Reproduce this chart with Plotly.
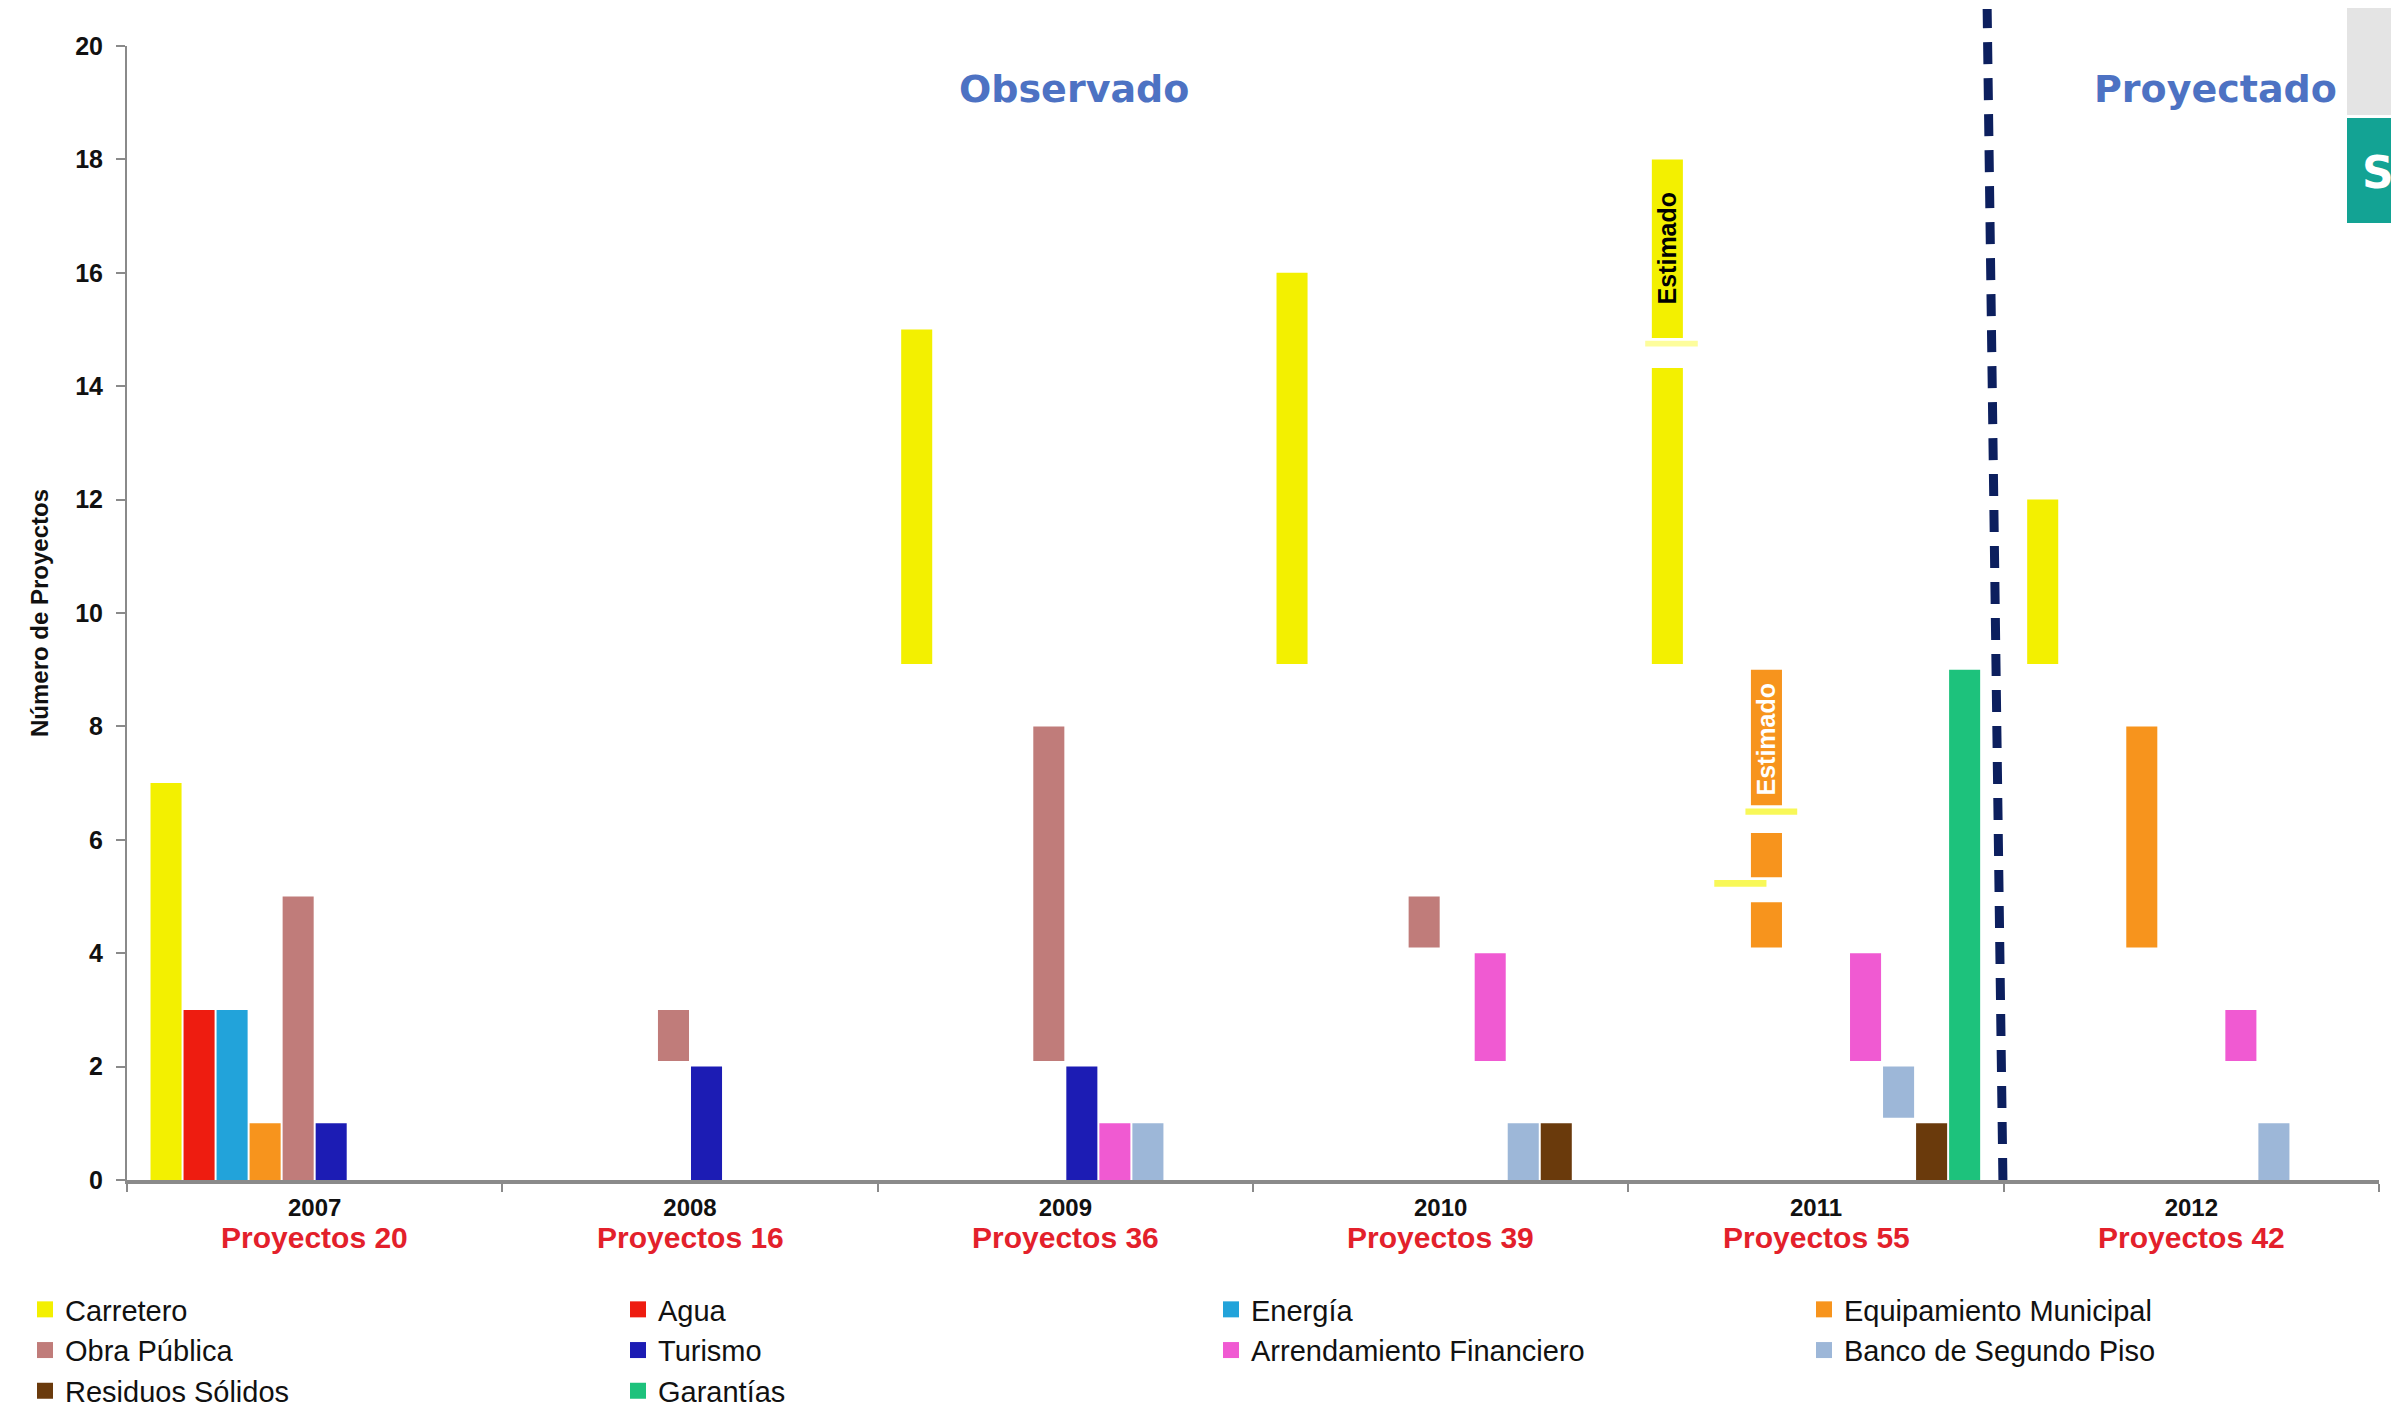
import plotly.graph_objects as go

# ---------------- data ----------------
years = ["2007", "2008", "2009", "2010", "2011", "2012"]
proyectos = [20, 16, 36, 39, 55, 42]

series_names = ["Carretero", "Agua", "Energía", "Equipamiento Municipal",
                "Obra Pública", "Turismo", "Arrendamiento Financiero",
                "Banco de Segundo Piso", "Residuos Sólidos", "Garantías"]

carretero_top = [7, None, 15, 16, 18, 12]
carretero_base = [0, 0, 9.1, 9.1, 9.1, 9.1]
agua_top = [3, None, None, None, None, None]
agua_base = [0, 0, 0, 0, 0, 0]
energia_top = [3, None, None, None, None, None]
energia_base = [0, 0, 0, 0, 0, 0]
equipamiento_top = [1, None, None, None, 9, 8]
equipamiento_base = [0, 0, 0, 0, 4.1, 4.1]
obra_top = [5, 3, 8, 5, None, None]
obra_base = [0, 2.1, 2.1, 4.1, 0, 0]
turismo_top = [1, 2, 2, None, None, None]
turismo_base = [0, 0, 0, 0, 0, 0]
arrendamiento_top = [None, None, 1, 4, 4, 3]
arrendamiento_base = [0, 0, 0, 2.1, 2.1, 2.1]
banco_top = [None, None, 1, 1, 2, 1]
banco_base = [0, 0, 0, 0, 1.1, 0]
residuos_top = [None, None, None, 1, 1, None]
residuos_base = [0, 0, 0, 0, 0, 0]
garantias_top = [None, None, None, None, 9, None]
garantias_base = [0, 0, 0, 0, 0, 0]

y_ticks = [0, 2, 4, 6, 8, 10, 12, 14, 16, 18, 20]

colors = ["#f3f000", "#ee1c10", "#22a3da", "#f7941d", "#c07c7a",
          "#1c1cb4", "#f05ad2", "#9db7d8", "#6a3a0c", "#1dc27c"]

tops = [carretero_top, agua_top, energia_top, equipamiento_top, obra_top,
        turismo_top, arrendamiento_top, banco_top, residuos_top, garantias_top]
bases = [carretero_base, agua_base, energia_base, equipamiento_base, obra_base,
         turismo_base, arrendamiento_base, banco_base, residuos_base, garantias_base]

FONT = "Liberation Sans, Arial, sans-serif"

fig = go.Figure()
for name, top, base, col in zip(series_names, tops, bases, colors):
    heights = [None if t is None else t - b for t, b in zip(top, base)]
    fig.add_trace(go.Bar(
        x=years, y=heights, base=base, name=name,
        legendgroup=name, showlegend=False,
        marker=dict(color=col, line=dict(width=0)),
    ))
# legend entries with larger square swatches (same groups as the bars)
for name, col in zip(series_names, colors):
    fig.add_trace(go.Scatter(
        x=[None], y=[None], mode="markers", name=name, legendgroup=name,
        marker=dict(symbol="square", size=19, color=col, line=dict(width=0)),
        hoverinfo="skip",
    ))

# page offset of the plot div (body margin)
OFF = 8
W, H = 2399 - OFF, 1412 - OFF
WL, WT, WR, WB = 127, 46, 2379, 1180          # plot area in window pixels
ML, MT = WL - OFF, WT - OFF
MR = W - (WR - OFF)
MB = H - (WB - OFF)
pw = WR - WL
ph = WB - WT

def px_x(x):
    return (x - WL) / pw

def px_y(y):
    return (WB - y) / ph

annotations = []
# Proyectos totals under each year
for i, n in enumerate(proyectos):
    annotations.append(dict(
        x=i, xref="x", y=px_y(1237), yref="paper",
        text="<b>Proyectos %d</b>" % n, showarrow=False,
        font=dict(family=FONT, size=30, color="#e3202b"),
        xanchor="center", yanchor="middle"))

annotations += [
    dict(x=px_x(1074), y=px_y(89), xref="paper", yref="paper",
         text="<b>Observado</b>", showarrow=False, xanchor="center", yanchor="middle",
         font=dict(family="DejaVu Sans, Verdana, sans-serif", size=38, color="#4d72c3")),
    dict(x=px_x(2215), y=px_y(89), xref="paper", yref="paper",
         text="<b>Proyectado</b>", showarrow=False, xanchor="center", yanchor="middle",
         font=dict(family="DejaVu Sans, Verdana, sans-serif", size=38, color="#4d72c3")),
    dict(x=3.602, y=16.44, xref="x", yref="y", text="<b>Estimado</b>",
         textangle=-90, showarrow=False, xanchor="center", yanchor="middle",
         font=dict(family=FONT, size=25, color="black")),
    dict(x=3.867, y=7.77, xref="x", yref="y", text="<b>Estimado</b>",
         textangle=-90, showarrow=False, xanchor="center", yanchor="middle",
         font=dict(family=FONT, size=25, color="white")),
    dict(x=px_x(2360), y=px_y(172), xref="paper", yref="paper", text="<b>S</b>",
         xanchor="left", yanchor="middle", showarrow=False,
         font=dict(family="DejaVu Sans, sans-serif", size=44, color="white")),
]

shapes = [
    # divider between observed and projected
    dict(type="line", xref="x", yref="paper", x0=4.498, y0=0, x1=4.456, y1=px_y(9),
         line=dict(color="#0c1f5e", width=9, dash="22px,14px")),
    # white label gaps on the 2011 bars
    dict(type="rect", xref="x", yref="y", x0=3.537, x1=3.692, y0=14.32, y1=14.85,
         fillcolor="white", line=dict(width=0), layer="above"),
    dict(type="rect", xref="x", yref="y", x0=3.545, x1=3.685, y0=14.70, y1=14.80,
         fillcolor="#fdfd9c", line=dict(width=0), layer="above"),
    dict(type="rect", xref="x", yref="y", x0=3.812, x1=3.959, y0=6.12, y1=6.61,
         fillcolor="white", line=dict(width=0), layer="above"),
    dict(type="rect", xref="x", yref="y", x0=3.812, x1=3.950, y0=6.44, y1=6.55,
         fillcolor="#f8f858", line=dict(width=0), layer="above"),
    dict(type="rect", xref="x", yref="y", x0=3.729, x1=3.916, y0=4.90, y1=5.34,
         fillcolor="white", line=dict(width=0), layer="above"),
    dict(type="rect", xref="x", yref="y", x0=3.729, x1=3.868, y0=5.17, y1=5.29,
         fillcolor="#f8f858", line=dict(width=0), layer="above"),
    # slide decorations at top right
    dict(type="rect", xref="paper", yref="paper", x0=px_x(2347), x1=px_x(2420),
         y0=px_y(115), y1=px_y(-10), fillcolor="#e4e4e4", line=dict(width=0)),
    dict(type="rect", xref="paper", yref="paper", x0=px_x(2347), x1=px_x(2420),
         y0=px_y(223), y1=px_y(118), fillcolor="#13a394", line=dict(width=0)),
]

fig.update_layout(
    width=W, height=H,
    margin=dict(l=ML, r=MR, t=MT, b=MB, autoexpand=False),
    paper_bgcolor="white", plot_bgcolor="white",
    barmode="group", bargap=0.12, bargroupgap=0.06,
    font=dict(family=FONT, color="black"),
    showlegend=True,
    legend=dict(
        orientation="h", x=px_x(25), xanchor="left", y=px_y(1284), yanchor="top",
        entrywidth=548, entrywidthmode="pixels",
        font=dict(family=FONT, size=29, color="#111111"),
        traceorder="normal", bgcolor="rgba(0,0,0,0)",
    ),
    xaxis=dict(
        type="category", categoryorder="array", categoryarray=years,
        tickmode="array", tickvals=years, ticktext=["<b>%s</b>" % y for y in years],
        tickson="boundaries", ticks="outside", ticklen=8, tickwidth=2,
        tickcolor="#8a8a8a", ticklabelstandoff=3,
        tickfont=dict(family=FONT, size=24, color="#111111"),
        showline=True, linecolor="#8a8a8a", linewidth=4,
        showgrid=False, zeroline=False, range=[-0.5, 5.5],
    ),
    yaxis=dict(
        range=[0, 20], tickmode="array", tickvals=y_ticks,
        ticktext=["<b>%d</b>" % v for v in y_ticks],
        ticks="outside", ticklen=9, tickwidth=2, tickcolor="#8a8a8a",
        ticklabelstandoff=8,
        tickfont=dict(family=FONT, size=25, color="#111111"),
        showline=True, linecolor="#8a8a8a", linewidth=2,
        showgrid=False, zeroline=False,
        title=dict(text="<b>Número de Proyectos</b>", standoff=20,
                   font=dict(family=FONT, size=24, color="#111111")),
    ),
    annotations=annotations,
    shapes=shapes,
)

fig.write_html("out.html")
